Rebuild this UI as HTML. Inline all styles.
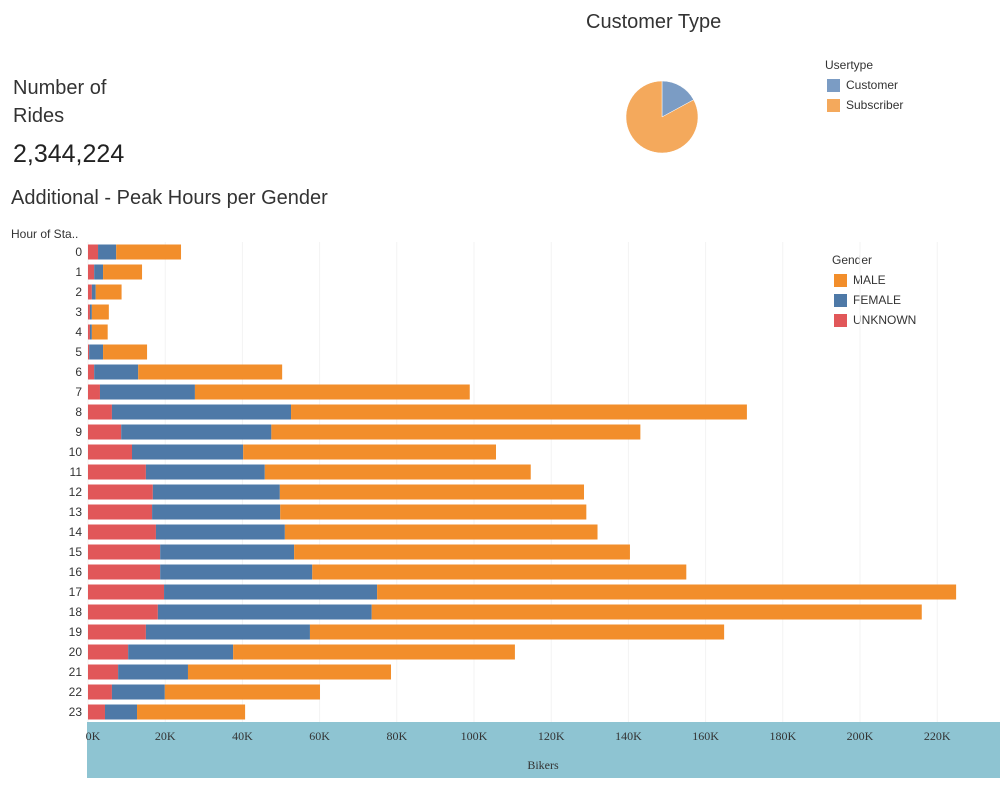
<!DOCTYPE html>
<html><head><meta charset="utf-8"><style>
body{margin:0;width:1006px;height:788px;background:#fff;font-family:"Liberation Sans",sans-serif;position:relative;overflow:hidden}
.t{position:absolute;white-space:nowrap}
</style></head><body>
<div class="t" style="left:586px;top:11px;font-size:20px;color:#333">Customer Type</div>
<div class="t" style="left:13px;top:74px;font-size:20px;color:#333;line-height:28px">Number of<br>Rides</div>
<div class="t" style="left:13px;top:140px;font-size:25px;color:#222">2,344,224</div>
<div class="t" style="left:11px;top:187px;font-size:20px;color:#333">Additional - Peak Hours per Gender</div>
<div class="t" style="left:11px;top:227px;font-size:12px;color:#333">Hour of Sta..</div>
<div class="t" style="left:825px;top:58px;font-size:12px;color:#333">Usertype</div>
<div class="t" style="left:827px;top:78px;font-size:12px;color:#333"><span style="display:inline-block;width:13px;height:13px;background:#7b9cc4;vertical-align:middle;margin-right:6px"></span>Customer</div>
<div class="t" style="left:827px;top:98px;font-size:12px;color:#333"><span style="display:inline-block;width:13px;height:13px;background:#f4a95c;vertical-align:middle;margin-right:6px"></span>Subscriber</div>
<div class="t" style="left:832px;top:253px;font-size:12px;color:#333">Gender</div>
<div class="t" style="left:834px;top:273px;font-size:12px;color:#333"><span style="display:inline-block;width:13px;height:13px;background:#f28e2b;vertical-align:middle;margin-right:6px"></span>MALE</div>
<div class="t" style="left:834px;top:293px;font-size:12px;color:#333"><span style="display:inline-block;width:13px;height:13px;background:#4e79a7;vertical-align:middle;margin-right:6px"></span>FEMALE</div>
<div class="t" style="left:834px;top:313px;font-size:12px;color:#333"><span style="display:inline-block;width:13px;height:13px;background:#e15759;vertical-align:middle;margin-right:6px"></span>UNKNOWN</div>
<svg id="svg" width="1006" height="788" style="position:absolute;left:0;top:0"></svg>
<script>
const pieLabels=["Customer","Subscriber"];
const pieValues=[400,1944];
const hours=["0","1","2","3","4","5","6","7","8","9","10","11","12","13","14","15","16","17","18","19","20","21","22","23"];
const unknownVals=[2.6,1.6,1.0,0.5,0.5,0.3,1.6,3.1,6.2,8.6,11.4,15.0,16.8,16.6,17.6,18.7,18.7,19.7,18.1,15.0,10.4,7.8,6.2,4.4];
const femaleVals=[4.7,2.3,1.0,0.5,0.5,3.6,11.4,24.6,46.4,38.9,28.8,30.8,32.9,33.2,33.4,34.7,39.4,55.2,55.4,42.5,27.2,18.1,13.7,8.3];
const maleVals=[16.8,10.1,6.7,4.4,4.1,11.4,37.3,71.2,118.1,95.6,65.5,68.9,78.8,79.3,81.0,87.0,96.9,150.0,142.5,107.3,73.0,52.6,40.2,28.0];
const ticks=[0,20,40,60,80,100,120,140,160,180,200,220];
const NS="http://www.w3.org/2000/svg",svg=document.getElementById('svg');
function mk(t,a,p){const e=document.createElementNS(NS,t);for(const k in a)e.setAttribute(k,a[k]);(p||svg).appendChild(e);return e;}
const x=v=>88+v*3.86, y=i=>252+i*20;
const band=mk('rect',{x:87,y:722,width:913,height:56,fill:'#8ec4d2'});


ticks.forEach(t=>{
 const g=mk('line',{x1:x(t),x2:x(t),y1:242,y2:722,stroke:'#f3f3f3','stroke-width':1});
 
 
 const l=mk('text',{x:x(t)+(t==0?5:0),y:740,'text-anchor':'middle','font-size':12,fill:'#333','font-family':'Liberation Serif'});
 l.textContent=t+'K';
 
 
});
const xt=mk('text',{x:543,y:769,'text-anchor':'middle','font-size':12,fill:'#333','font-family':'Liberation Serif'});
xt.textContent='Bikers';


hours.forEach((h,i)=>{
 const l=mk('text',{x:82,y:y(i)+4,'text-anchor':'end','font-size':12,fill:'#333'});
 l.textContent=h;
 
 
 let s=0;
 [[unknownVals,'#e15759','unknown'],[femaleVals,'#4e79a7','female'],[maleVals,'#f28e2b','male']].forEach(([arr,c,n])=>{
  const r=mk('rect',{x:x(s),y:y(i)-7.5,width:x(s+arr[i])-x(s),height:15,fill:c});
  
  
  s+=arr[i];
 });
});
const cx=662,cy=117,R=36,tot=pieValues.reduce((a,b)=>a+b,0);let a0=0;
const pc=['#7b9cc4','#f4a95c'];
pieValues.forEach((v,i)=>{
 const a1=a0+v/tot*2*Math.PI;
 const p=(a)=>[cx+R*Math.sin(a),cy-R*Math.cos(a)];
 const [x0,y0]=p(a0),[x1,y1]=p(a1);
 const e=mk('path',{d:`M${cx},${cy}L${x0},${y0}A${R},${R} 0 ${a1-a0>Math.PI?1:0} 1 ${x1},${y1}Z`,fill:pc[i],stroke:'#fff','stroke-width':0.5});
 
 
 a0=a1;
});
</script>
</body></html>
